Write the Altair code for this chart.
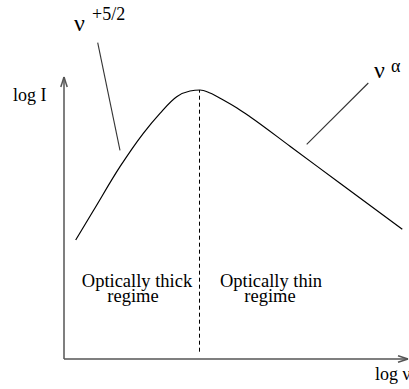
import altair as alt
import pandas as pd

# Spectrum sketch: log I against log nu (arbitrary units, origin at the axes' corner)
curve_lognu = [1.17, 2.93, 5.6, 7.93, 9.6, 11.27, 12.6, 13.6, 14.6, 15.93, 17.3, 18.6, 22.6, 27.6, 33.83]
curve_logI = [11.9, 14.82, 19.23, 22.57, 24.57, 26.23, 26.8, 26.9, 26.6, 25.9, 25.1, 24.23, 21.28, 17.57, 12.97]

# Turnover frequency separating the two regimes
peak_lognu = 13.55
peak_logI = 26.9
dash_bottom = 0.73

# Axis extents and arrow-head size
x_axis_end = 34.4
y_axis_end = 28.2
head_len = 1.0
head_half = 0.32

# Pointer lines from the power-law labels to the curve
pointer_x = [3.37, 24.27]
pointer_y = [31.63, 21.47]
pointer_x2 = [5.6, 30.43]
pointer_y2 = [20.87, 27.6]

# Annotation text
note_text = ["log I", "ν", "+5/2", "ν", "α", "log ν"]
note_x = [-5.1, 1.0, 2.8, 31.0, 32.7, 31.1]
note_y = [25.8, 32.8, 33.9, 28.1, 28.7, -2.1]
note_size = [18, 24, 18, 24, 18, 18]

regime_text = ["Optically thick", "regime", "Optically thin", "regime"]
regime_x = [7.3, 6.9, 20.7, 20.6]
regime_y = [7.25, 5.7, 7.25, 5.7]

W, H = 409, 389
xs = alt.Scale(domain=[-6.4, 34.5], nice=False, zero=False)
ys = alt.Scale(domain=[-3.0, 35.9], nice=False, zero=False)
FONT = "Liberation Serif"

curve_df = pd.DataFrame({"lognu": curve_lognu, "logI": curve_logI,
                         "i": list(range(len(curve_lognu)))})
curve = alt.Chart(curve_df).mark_line(
    interpolate="monotone", color="black", strokeWidth=1.2
).encode(
    x=alt.X("lognu:Q", scale=xs, axis=None),
    y=alt.Y("logI:Q", scale=ys, axis=None),
    order="i:Q",
)

axes_df = pd.DataFrame({
    "x": [0, 0, -head_half, head_half, x_axis_end - head_len, x_axis_end - head_len],
    "y": [0, 0, y_axis_end - head_len, y_axis_end - head_len, head_half, -head_half],
    "x2": [0, x_axis_end, 0, 0, x_axis_end, x_axis_end],
    "y2": [y_axis_end, 0, y_axis_end, y_axis_end, 0, 0],
})
axes = alt.Chart(axes_df).mark_rule(color="#555555", strokeWidth=1.5).encode(
    x=alt.X("x:Q", scale=xs, axis=None),
    y=alt.Y("y:Q", scale=ys, axis=None),
    x2="x2:Q",
    y2="y2:Q",
)

dash_df = pd.DataFrame({"x": [peak_lognu], "y": [dash_bottom], "y2": [peak_logI]})
dash = alt.Chart(dash_df).mark_rule(
    color="black", strokeWidth=1, strokeDash=[4, 3]
).encode(
    x=alt.X("x:Q", scale=xs, axis=None),
    y=alt.Y("y:Q", scale=ys, axis=None),
    y2="y2:Q",
)

ptr_df = pd.DataFrame({"x": pointer_x, "y": pointer_y, "x2": pointer_x2, "y2": pointer_y2})
pointers = alt.Chart(ptr_df).mark_rule(color="#333333", strokeWidth=1.1).encode(
    x=alt.X("x:Q", scale=xs, axis=None),
    y=alt.Y("y:Q", scale=ys, axis=None),
    x2="x2:Q",
    y2="y2:Q",
)

notes_df = pd.DataFrame({"t": note_text, "x": note_x, "y": note_y, "s": note_size})
notes = alt.Chart(notes_df).mark_text(
    align="left", baseline="alphabetic", font=FONT, color="black"
).encode(
    x=alt.X("x:Q", scale=xs, axis=None),
    y=alt.Y("y:Q", scale=ys, axis=None),
    text="t:N",
    size=alt.Size("s:Q", scale=None, legend=None),
)

regime_df = pd.DataFrame({"t": regime_text, "x": regime_x, "y": regime_y})
regimes = alt.Chart(regime_df).mark_text(
    align="center", baseline="alphabetic", font=FONT, fontSize=18.5, color="black"
).encode(
    x=alt.X("x:Q", scale=xs, axis=None),
    y=alt.Y("y:Q", scale=ys, axis=None),
    text="t:N",
)

chart = alt.layer(axes, dash, curve, pointers, notes, regimes).properties(
    width=W, height=H, padding=0, autosize=alt.AutoSizeParams(type="none"),
    background="white",
).configure_view(stroke=None)

chart.save("out.html", embed_options={"renderer": "svg", "actions": False})
